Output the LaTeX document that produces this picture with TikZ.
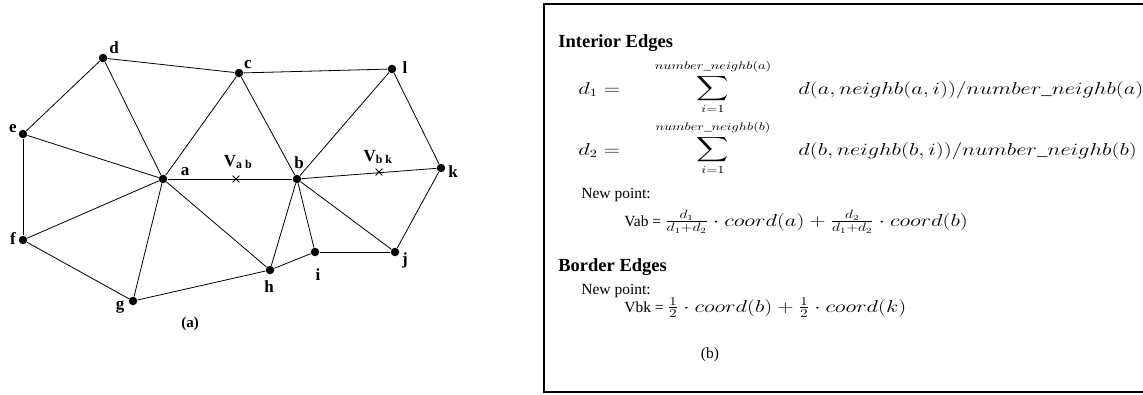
\documentclass[tikz,border=0pt]{standalone}
\usepackage{amsmath}
\usepackage{fontspec}
\setmainfont{Liberation Serif}
\usetikzlibrary{shapes.misc}
\newcommand{\wide}[1]{\scalebox{1.3}[1]{#1}}
\newcommand{\eqsize}{\fontsize{17}{20}\selectfont}
\tikzset{
  every picture/.style={line width=0.8pt},
  dot/.style={circle, fill=black, inner sep=0pt, minimum size=8.5pt},
  cross/.style={cross out, draw=black, inner sep=0pt, minimum size=6pt, line width=0.8pt},
  lbl/.style={font=\fontsize{17}{20}\selectfont\bfseries, inner sep=0pt},
  txt/.style={font=\fontsize{15.5}{18}\selectfont, inner sep=0pt, anchor=base west},
  head/.style={txt, font=\fontsize{18.5}{22}\selectfont\bfseries},
  eq/.style={font=\fontsize{16}{19}\selectfont, inner sep=0pt, anchor=base west},
}
\begin{document}
\begin{tikzpicture}[x=1pt, y=-1pt]
  \useasboundingbox (0,0) rectangle (1143,394);
  % mesh (a)
  \foreach \n/\x/\y in {a/163/179, b/297/179, c/239/73, d/103/58, e/23/134, f/23/240,
                        g/133/301, h/270/270, i/315/252, j/395/252, k/441/168, l/392/69}
    \node[dot] (\n) at (\x,\y) {};
  \node[cross] (xab) at (236,179) {};
  \node[cross] (xbk) at (379,172) {};
  \foreach \p/\q in {d/c, c/l, d/e, e/f, f/g, g/h, h/i, i/j, j/k, k/l, a/b, a/c, a/d, a/e,
                     a/f, a/g, a/h, b/c, b/l, b/k, b/j, b/i, b/h}
    \draw (\p) -- (\q);
  \foreach \n/\x/\y in {a/185/172, b/299/163, c/248/65, d/114/48, e/13/129, f/13/239,
                        g/120/307, h/269/287, i/318/275, j/405/260, k/453/172, l/405/68}
    \node[lbl] (l\n) at (\x,\y) {\n};
  \node[lbl] (lxab) at (238,162) {V\textsubscript{a b}};
  \node[lbl] (lxbk) at (378,157) {V\textsubscript{b k}};
  \node[lbl, font=\fontsize{15}{18}\selectfont\bfseries] (capa) at (190,324) {(a)};
  % panel (b)
  \draw[line width=2pt] (544,4) rectangle (1170,392);
  \node[head] (int) at (558,47) {Interior Edges};
  \node[eq] (d1) at (578,94) {\wide{$d_1 =$}};
  \node[eq, anchor=center] (s1) at (713,87) {\wide{$\displaystyle\sum_{i=1}^{number\_neighb(a)}$}};
  \node[eq] (t1) at (798,94) {\wide{$d(a, neighb(a,i))/number\_neighb(a)$}};
  \node[eq] (d2) at (578,155) {\wide{$d_2 =$}};
  \node[eq, anchor=center] (s2) at (713,148) {\wide{$\displaystyle\sum_{i=1}^{number\_neighb(b)}$}};
  \node[eq] (t2) at (798,155) {\wide{$d(b, neighb(b,i))/number\_neighb(b)$}};
  \node[txt] (np1) at (581,198) {New point:};
  \node[txt] (eqab) at (624,226) {Vab = {\eqsize\wide{$\frac{d_1}{d_1+d_2}\cdot coord(a) + \frac{d_2}{d_1+d_2}\cdot coord(b)$}}};
  \node[head] (bord) at (558,271) {Border Edges};
  \node[txt] (np2) at (581,294) {New point:};
  \node[txt] (eqbk) at (624,312) {Vbk = {\eqsize\wide{$\frac{1}{2}\cdot coord(b) + \frac{1}{2}\cdot coord(k)$}}};
  \node[txt, anchor=center] (capb) at (710,355) {(b)};
\end{tikzpicture}
\end{document}
